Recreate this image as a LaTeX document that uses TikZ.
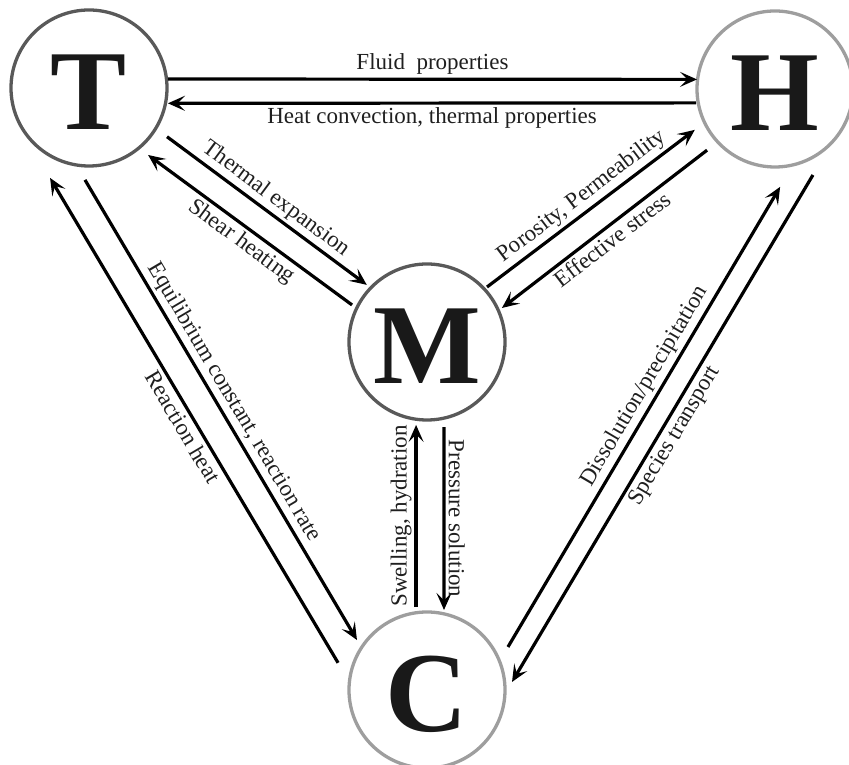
\documentclass[tikz,border=0pt]{standalone}
\usepackage{fontspec}
\setmainfont{Liberation Serif}
\usetikzlibrary{arrows.meta,calc}

\tikzstyle{field}=[draw,circle,minimum size=156pt,inner sep=0pt,
    line width=3.3pt,text=black!90,text height=83pt,text depth=0pt,
    font=\bfseries\fontsize{114}{114}\selectfont]
\tikzstyle{field dark}=[draw=black!65]
\tikzstyle{field light}=[draw=black!38]
\tikzstyle{coupling}=[line width=3.2pt,
    -{Stealth[length=17pt,width=15pt,inset=7.5pt]}]
\tikzstyle{coupling label}=[sloped,midway,inner sep=3pt,text=black!88,
    font=\fontsize{23}{26}\selectfont]
\newcommand{\couple}[6][above]{
    \draw[coupling] ($(#2)+(#3)$) --
        node[coupling label,#1] {#6} ($(#4)+(#5)$);
}

\begin{document}
\begin{tikzpicture}[x=1pt,y=1pt]
    \useasboundingbox (0,0) rectangle (849,765);
    \node[field,field dark] (T) at (89,677) {T};
    \node[field,field light] (H) at (775,676) {H};
    \node[field,field dark] (M) at (427,423) {M};
    \node[field,field light] (C) at (427,75) {C};
    %
    \couple{T}{6.5:79.5}{H}{173:78.6}{Fluid~ properties}
    \couple[below]{H}{190:80}{T}{-11:80.4}{Heat convection, thermal properties}
    %
    \couple{T}{-32:92}{M}{136.5:83}{Thermal expansion}
    \couple[below]{M}{153.7:83.6}{T}{-48.6:89.3}{Shear heating}
    \couple{M}{42.5:81.4}{H}{207:90}{Porosity, Permeability}
    \couple[below]{H}{222:91.4}{M}{24.4:82.3}{Effective stress}
    \couple{C}{97.5:83.7}{M}{262.5:83.7}{Swelling, hydration}
    \couple{M}{-78.7:86.7}{C}{78:81.8}{Pressure solution}
    %
    \couple{T}{267.5:92}{C}{144.5:86}{Equilibrium constant, reaction rate}
    \couple[below]{C}{163:93}{T}{246.6:98}{Reaction heat}
    \couple[above,pos=0.55]{C}{28:91.7}{H}{273:98}{Dissolution/precipitation}
    \couple[below]{H}{293.8:94}{C}{5.4:85.4}{Species transport}
\end{tikzpicture}
\end{document}
